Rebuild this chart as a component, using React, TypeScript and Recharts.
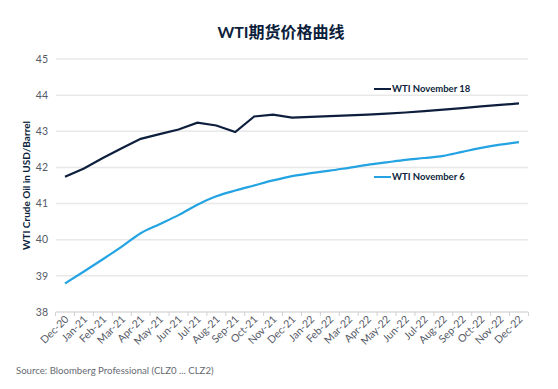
import React from 'react';
import { LineChart, Line, XAxis, YAxis, CartesianGrid } from 'recharts';

const categories = ['Dec-20','Jan-21','Feb-21','Mar-21','Apr-21','May-21','Jun-21','Jul-21','Aug-21','Sep-21','Oct-21','Nov-21','Dec-21','Jan-22','Feb-22','Mar-22','Apr-22','May-22','Jun-22','Jul-22','Aug-22','Sep-22','Oct-22','Nov-22','Dec-22'];
const nov18 = [41.74,41.97,42.26,42.53,42.79,42.92,43.05,43.24,43.16,42.98,43.41,43.46,43.38,43.40,43.42,43.44,43.46,43.49,43.52,43.56,43.60,43.64,43.69,43.73,43.77];
const nov6 = [38.79,39.12,39.46,39.81,40.18,40.43,40.68,40.97,41.20,41.36,41.5,41.64,41.76,41.84,41.91,41.99,42.07,42.14,42.21,42.26,42.32,42.43,42.54,42.63,42.70];
const yTicks = [38,39,40,41,42,43,44,45];
const seriesNames = ['WTI November 18','WTI November 6'];

const data = categories.map((c, i) => ({ month: c, a: nov18[i], b: nov6[i] }));

const FONT = 'Lato, "Noto Sans CJK SC", sans-serif';
const NAVY = '#0d1f3c';
const BLUE = '#23a3e2';
const colors = [NAVY, BLUE];
const HALF_BAND = 9.44;

const XTick = (props: any) => {
  const { x, y, payload, index } = props;
  const last = index === categories.length - 1;
  return (
    <g transform={`translate(${x},${y})`}>
      <line x1={-HALF_BAND} x2={-HALF_BAND} y1={-8} y2={-4} stroke="#d0d0d0" strokeWidth={1} />
      {last && <line x1={HALF_BAND} x2={HALF_BAND} y1={-8} y2={-4} stroke="#d0d0d0" strokeWidth={1} />}
      <text x={3} y={3} textAnchor="end" transform="rotate(-45)" fontSize={10.5} fill="#555a66" fontFamily={FONT}>
        {payload.value}
      </text>
    </g>
  );
};

const legendPos = [
  { left: 374, top: 83 },
  { left: 374, top: 171 },
];

export default function App() {
  return (
    <div style={{ position: 'absolute', left: 0, top: 0, width: 558, height: 389, background: '#fff', fontFamily: FONT }}>
      <div style={{ position: 'absolute', left: 0, width: 558, top: 19, textAlign: 'center', fontSize: 16, fontWeight: 700, color: NAVY, paddingLeft: 4, boxSizing: 'border-box' }}>
        WTI期货价格曲线
      </div>
      <LineChart width={558} height={389} data={data} margin={{ top: 59, right: 30, bottom: 17, left: 0 }}>
        <CartesianGrid vertical={false} stroke="#e8e8e8" strokeWidth={1.5} />
        <XAxis
          dataKey="month"
          interval={0}
          padding={{ left: 9, right: 9 }}
          axisLine={{ stroke: '#e0e0e0', strokeWidth: 1.5 }}
          tickLine={false}
          tick={<XTick />}
          height={60}
        />
        <YAxis
          domain={[38, 45]}
          ticks={yTicks}
          width={56}
          axisLine={false}
          tickLine={false}
          tick={{ fontSize: 10.5, fill: '#555a66', fontFamily: FONT }}
          label={{
            content: (p: any) => {
              const vb = p.viewBox;
              const cx = vb.x + 26;
              const cy = vb.y + vb.height / 2;
              return (
                <text x={cx} y={cy} transform={`rotate(-90, ${cx}, ${cy})`} textAnchor="middle" dominantBaseline="central" fontSize={10} fontWeight={700} fill={NAVY} fontFamily={FONT}>
                  WTI Crude Oil in USD/Barrel
                </text>
              );
            },
          }}
        />
        <Line type="linear" dataKey="a" name={seriesNames[0]} stroke={NAVY} strokeWidth={2.2} dot={false} isAnimationActive={false} />
        <Line type="monotone" dataKey="b" name={seriesNames[1]} stroke={BLUE} strokeWidth={2.2} dot={false} isAnimationActive={false} />
      </LineChart>
      {seriesNames.map((n, i) => (
        <div key={n} style={{ position: 'absolute', left: legendPos[i].left, top: legendPos[i].top, display: 'flex', alignItems: 'center', whiteSpace: 'nowrap' }}>
          <div style={{ width: 17, height: 2.5, background: colors[i], marginRight: 1 }} />
          <span style={{ fontSize: 9.5, fontWeight: 700, color: NAVY, lineHeight: '12px' }}>{n}</span>
        </div>
      ))}
      <div style={{ position: 'absolute', left: 16, top: 365, fontSize: 9.6, color: '#666a73', whiteSpace: 'nowrap' }}>
        Source: Bloomberg Professional (CLZ0 ... CLZ2)
      </div>
    </div>
  );
}
